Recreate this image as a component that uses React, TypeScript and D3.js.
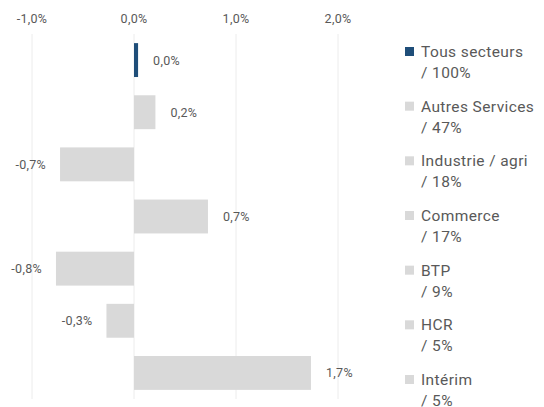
import React from "react";
import * as d3 from "d3";

const categories = ["Tous secteurs", "Autres Services", "Industrie / agri", "Commerce", "BTP", "HCR", "Intérim"];
const shares = ["100%", "47%", "18%", "17%", "9%", "5%", "5%"];
const values = [0.04, 0.21, -0.725, 0.725, -0.765, -0.27, 1.735];
const valueLabels = ["0,0%", "0,2%", "-0,7%", "0,7%", "-0,8%", "-0,3%", "1,7%"];
const tickValues = [-1, 0, 1, 2];
const tickLabels = ["-1,0%", "0,0%", "1,0%", "2,0%"];

const W = 544;
const H = 407;
const FONT = "Roboto, 'Open Sans', sans-serif";
const TEXT = "#595959";
const DARK = "#1f4e79";
const GREY = "#d9d9d9";

export default function App() {
  const x = d3.scaleLinear().domain([-1, 2]).range([32, 338]);
  const y = d3.scaleBand<string>().domain(categories).range([34, 399]).paddingInner(0.35).paddingOuter(0.175);
  const legendY = d3.scalePoint<string>().domain(categories).range([51, 379]);

  return (
    <svg width={W} height={H} style={{ position: "absolute", left: 0, top: 0, background: "#fff" }} fontFamily={FONT}>
      {tickValues.map((t, i) => (
        <g key={t}>
          <line x1={x(t)} x2={x(t)} y1={34} y2={399} stroke="#ececec" strokeWidth={1} />
          <text x={x(t)} y={23} textAnchor="middle" fontSize={12.5} letterSpacing={0.3} fill={TEXT}>{tickLabels[i]}</text>
        </g>
      ))}
      {categories.map((c, i) => {
        const v = values[i];
        const x0 = x(Math.min(0, v));
        const x1 = x(Math.max(0, v));
        const yy = y(c)!;
        const cy = yy + y.bandwidth() / 2;
        return (
          <g key={c}>
            <rect x={x0} y={yy} width={x1 - x0} height={y.bandwidth()} fill={i === 0 ? DARK : GREY} />
            <text
              x={v >= 0 ? x1 + 15 : x0 - 14}
              y={cy + 4.5}
              textAnchor={v >= 0 ? "start" : "end"}
              fontSize={12.5}
              letterSpacing={0.3}
              fill={TEXT}
            >
              {valueLabels[i]}
            </text>
          </g>
        );
      })}
      {categories.map((c, i) => {
        const ly = legendY(c)!;
        return (
          <g key={"lg" + c}>
            <rect x={405} y={ly - 4} width={9} height={9} fill={i === 0 ? DARK : GREY} />
            <text x={421} y={ly + 6} fontSize={15.5} letterSpacing={0.4} fill={TEXT}>{c}</text>
            <text x={421} y={ly + 27} fontSize={15.5} letterSpacing={0.4} fill={TEXT}>{"/ " + shares[i]}</text>
          </g>
        );
      })}
    </svg>
  );
}
